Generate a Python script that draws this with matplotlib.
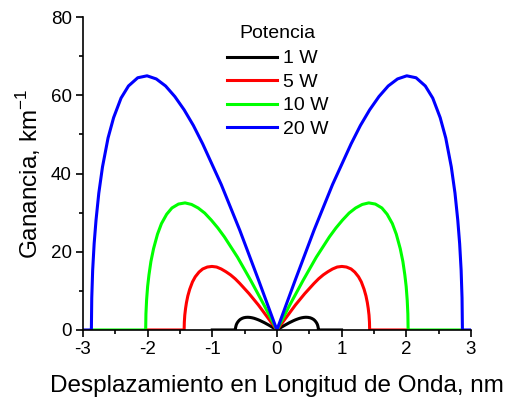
import numpy as np
import matplotlib
matplotlib.use('Agg')
import matplotlib.pyplot as plt
from matplotlib.ticker import MultipleLocator

plt.rcParams['font.family'] = ['Liberation Sans', 'DejaVu Sans']
plt.rcParams['axes.unicode_minus'] = False

# ganancia de inestabilidad modulacional (lado positivo, la curva es simetrica)
x_1w = [0, 0.064, 0.128, 0.193, 0.257, 0.289, 0.321, 0.353, 0.385, 0.417, 0.449, 0.482, 0.514, 0.539,
        0.565, 0.584, 0.603, 0.616, 0.626, 0.632, 0.637, 0.641, 0.642, 1.0]
g_1w = [0, 0.65, 1.27, 1.86, 2.38, 2.61, 2.81, 2.99, 3.12, 3.21, 3.25, 3.22, 3.12, 2.96,
        2.72, 2.45, 2.08, 1.75, 1.41, 1.10, 0.76, 0.41, 0, 0]

x_5w = [0, 0.144, 0.287, 0.431, 0.574, 0.646, 0.718, 0.789, 0.861, 0.933, 1.005, 1.076, 1.148, 1.205,
        1.263, 1.306, 1.349, 1.378, 1.399, 1.413, 1.425, 1.432, 1.435, 2.03]
g_5w = [0, 3.2, 6.4, 9.3, 11.9, 13.1, 14.1, 14.9, 15.6, 16.1, 16.25, 16.1, 15.6, 14.8,
        13.6, 12.3, 10.4, 8.7, 7.0, 5.5, 3.8, 2.0, 0, 0]

x_10w = [0, 0.203, 0.406, 0.609, 0.812, 0.914, 1.015, 1.117, 1.218, 1.320, 1.421, 1.523, 1.624, 1.705,
         1.786, 1.847, 1.908, 1.949, 1.979, 2.000, 2.016, 2.026, 2.030, 2.87]
g_10w = [0, 6.5, 12.7, 18.6, 23.8, 26.1, 28.1, 29.9, 31.2, 32.1, 32.5, 32.2, 31.2, 29.6,
         27.2, 24.5, 20.8, 17.5, 14.1, 11.1, 7.6, 4.1, 0, 0]

x_20w = [0, 0.287, 0.574, 0.861, 1.148, 1.292, 1.435, 1.579, 1.722, 1.866, 2.009, 2.153, 2.296, 2.411,
         2.526, 2.612, 2.698, 2.755, 2.798, 2.827, 2.850, 2.864, 2.870, 3.0]
g_20w = [0, 12.9, 25.5, 37.2, 47.6, 52.3, 56.3, 59.7, 62.4, 64.2, 65.0, 64.5, 62.4, 59.3,
         54.3, 49.1, 41.7, 35.0, 28.1, 22.1, 15.3, 8.2, 0, 0]

labels = ['1 W', '5 W', '10 W', '20 W']
colors = ['black', '#ff0000', '#00ff00', '#0000ff']


def mirror(x, g):
    x = np.asarray(x, dtype=float)
    g = np.asarray(g, dtype=float)
    return np.concatenate([-x[::-1], x[1:]]), np.concatenate([g[::-1], g[1:]])


fig = plt.figure(figsize=(5.09, 3.99), dpi=100)
ax = fig.add_axes([0.163, 0.173, 0.762, 0.784])

series = [(x_1w, g_1w), (x_5w, g_5w), (x_10w, g_10w), (x_20w, g_20w)]
for (x, g), lab, c in zip(series, labels, colors):
    xx, gg = mirror(x, g)
    ax.plot(xx, gg, color=c, lw=2.2, label=lab, solid_joinstyle='round')

ax.set_xlim(-3, 3)
ax.set_ylim(0, 80)
ax.xaxis.set_major_locator(MultipleLocator(1))
ax.xaxis.set_minor_locator(MultipleLocator(0.5))
ax.yaxis.set_major_locator(MultipleLocator(20))
ax.yaxis.set_minor_locator(MultipleLocator(10))
ax.spines['top'].set_visible(False)
ax.spines['right'].set_visible(False)
for s in ['left', 'bottom']:
    ax.spines[s].set_linewidth(1.2)
ax.tick_params(which='major', direction='out', length=5, width=1.2, labelsize=13.5, pad=3)
ax.tick_params(which='minor', direction='out', length=3, width=1.2)

ax.set_xlabel('Desplazamiento en Longitud de Onda, nm', fontsize=17.5, labelpad=12)
ax.set_ylabel(r'Ganancia, km$^{\mathregular{-1}}$', fontsize=17.5, labelpad=6)

leg = ax.legend(title='Potencia', loc='upper left', bbox_to_anchor=(0.335, 1.02),
                frameon=False, fontsize=14, title_fontsize=14, handlelength=2.6,
                handletextpad=0.3, labelspacing=0.3, borderpad=0.2)
leg._legend_box.sep = 6

fig.savefig('out.png', dpi=100)
